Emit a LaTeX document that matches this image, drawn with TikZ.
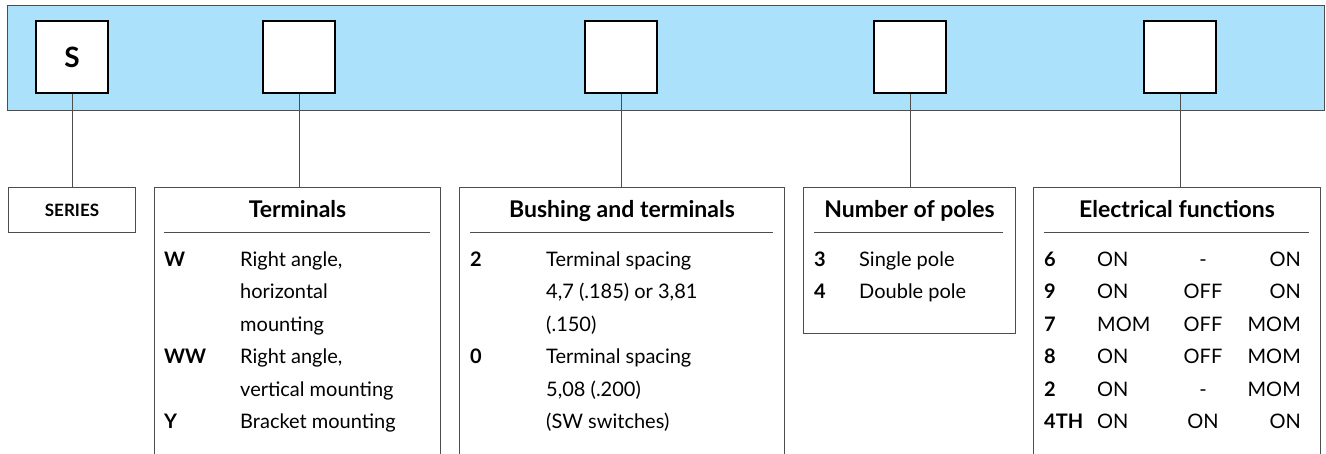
\documentclass[tikz,border=0pt]{standalone}
\usepackage{fontspec}
\setmainfont{Lato}
\definecolor{bandblue}{HTML}{ABE1FA}
\definecolor{inkgrey}{HTML}{4D4D4D}

\begin{document}
\begin{tikzpicture}[x=1pt, y=-1pt,
    slot/.style={draw=black, line width=2.5pt, fill=white, minimum size=72pt,
      inner sep=0pt, font=\bfseries\fontsize{28}{32}\selectfont},
    panel/.style={draw=inkgrey, line width=1pt, anchor=north west, inner sep=0pt},
    head/.style={anchor=base, inner sep=0pt, font=\bfseries\fontsize{23}{28}\selectfont},
    code/.style={anchor=base west, inner sep=0pt, font=\bfseries\fontsize{20}{24}\selectfont},
    txt/.style={anchor=base west, inner sep=0pt, font=\fontsize{20}{24}\selectfont},
    link/.style={draw=inkgrey, line width=1pt},
    rule/.style={draw=inkgrey, line width=0.8pt}]
    \clip (0,0) rectangle (1326,453);

    % blue band with the code slots
    \fill[bandblue, draw=inkgrey, line width=1pt] (7,5) rectangle (1324,110);
    \node (b1) [slot] at (72,57) {S};
    \node (b2) [slot] at (299,57) {};
    \node (b3) [slot] at (621,57) {};
    \node (b4) [slot] at (910,57) {};
    \node (b5) [slot] at (1180,57) {};

    % panels below
    \node (series) [panel, minimum width=127pt, minimum height=45pt,
      font=\bfseries\fontsize{17}{20}\selectfont] at (8,187) {SERIES};
    \node (term) [panel, minimum width=286pt, minimum height=300pt] at (154,187) {};
    \node (bush) [panel, minimum width=325pt, minimum height=300pt] at (459,187) {};
    \node (poles) [panel, minimum width=212pt, minimum height=146pt] at (803,187) {};
    \node (func) [panel, minimum width=287pt, minimum height=300pt] at (1033,187) {};

    \foreach \a/\b in {b1/series, b2/term, b3/bush, b4/poles, b5/func}
      \draw[link] (\a.south) -- (\a.south |- \b.north);

    % Terminals
    \node (term-h) [head] at (term.north |- 0,217) {Terminals};
    \draw[rule] (164,232) -- (430,232);
    \node (term-c1) [code] at (164,266) {W};
    \node (term-t1) [txt] at (240,266) {Right angle,};
    \node (term-t2) [txt] at (240,298.5) {horizontal};
    \node (term-t3) [txt] at (240,331) {mounting};
    \node (term-c2) [code] at (164,363.5) {WW};
    \node (term-t4) [txt] at (240,363.5) {Right angle,};
    \node (term-t5) [txt] at (240,396) {vertical mounting};
    \node (term-c3) [code] at (164,428.5) {Y};
    \node (term-t6) [txt] at (240,428.5) {Bracket mounting};

    % Bushing and terminals
    \node (bush-h) [head] at (bush.north |- 0,217) {Bushing and terminals};
    \draw[rule] (470,232) -- (773,232);
    \node (bush-c1) [code] at (470,266) {2};
    \node (bush-t1) [txt] at (546,266) {Terminal spacing};
    \node (bush-t2) [txt] at (546,298.5) {4,7 (.185) or 3,81};
    \node (bush-t3) [txt] at (546,331) {(.150)};
    \node (bush-c2) [code] at (470,363.5) {0};
    \node (bush-t4) [txt] at (546,363.5) {Terminal spacing};
    \node (bush-t5) [txt] at (546,396) {5,08 (.200)};
    \node (bush-t6) [txt] at (546,428.5) {(SW switches)};

    % Number of poles
    \node (poles-h) [head] at (poles.north |- 0,217) {Number of poles};
    \draw[rule] (814,232) -- (1003,232);
    \node (poles-c1) [code] at (814,266) {3};
    \node (poles-t1) [txt] at (859,266) {Single pole};
    \node (poles-c2) [code] at (814,298.5) {4};
    \node (poles-t2) [txt] at (859,298.5) {Double pole};

    % Electrical functions
    \node (func-h) [head] at (func.north |- 0,217) {Electrical functions};
    \draw[rule] (1044,232) -- (1309,232);
    \foreach \c/\p/\q/\r [count=\i from 0] in
        {6/ON/-/ON, 9/ON/OFF/ON, 7/MOM/OFF/MOM, 8/ON/OFF/MOM, 2/ON/-/MOM, 4TH/ON/ON/ON} {
      \node (func-c\i) [code] at (1044,{266+32.5*\i}) {\c};
      \node (func-p\i) [txt] at (1097,{266+32.5*\i}) {\p};
      \node (func-q\i) [txt, anchor=base] at (1203,{266+32.5*\i}) {\q};
      \node (func-r\i) [txt, anchor=base east] at (1301,{266+32.5*\i}) {\r};
    }
\end{tikzpicture}
\end{document}
